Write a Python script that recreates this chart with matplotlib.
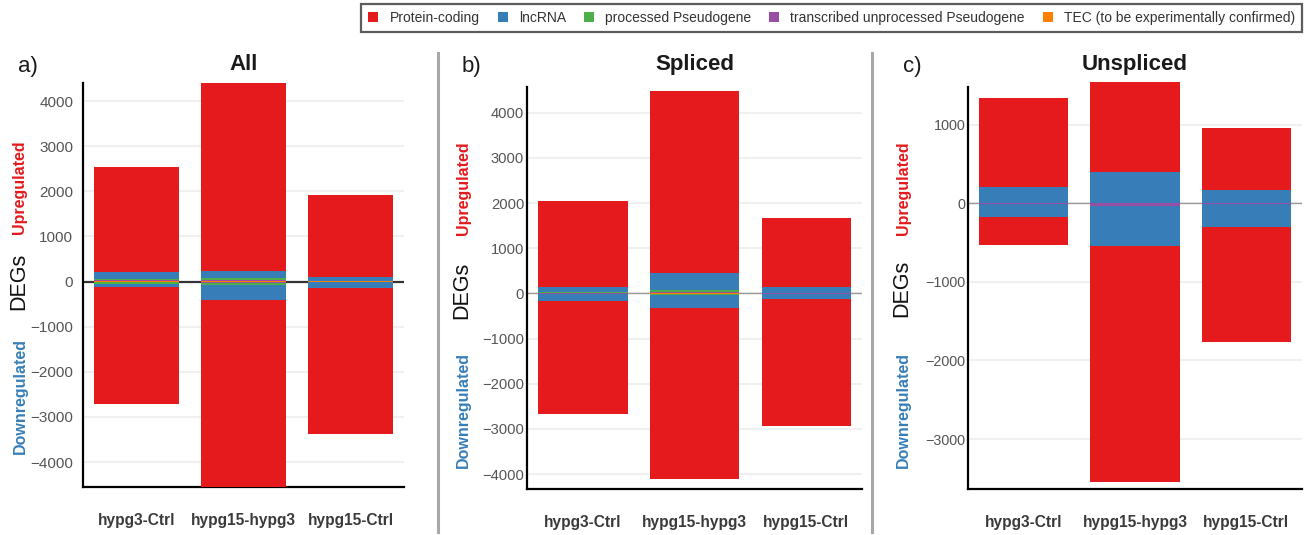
import matplotlib
matplotlib.use("Agg")
import matplotlib.pyplot as plt
from matplotlib.patches import Patch
from matplotlib.lines import Line2D
import numpy as np

plt.rcParams["font.family"] = ["Liberation Sans", "DejaVu Sans"]

comparisons = ["hypg3-Ctrl", "hypg15-hypg3", "hypg15-Ctrl"]
biotypes = ["Protein-coding", "lncRNA", "processed Pseudogene",
            "transcribed unprocessed Pseudogene",
            "TEC (to be experimentally confirmed)"]
biotype_colors = ["#E41A1C", "#377EB8", "#4DAF4A", "#984EA3", "#FF7F00"]

# DEG counts per biotype (rows follow `biotypes`), columns follow `comparisons`
all_up = [[2320, 4160, 1810],
          [165, 160, 95],
          [25, 50, 5],
          [25, 25, 5],
          [5, 5, 2]]
all_down = [[-2590, -4160, -3228],
            [-75, -320, -130],
            [-30, -50, -10],
            [-15, -20, -10],
            [-5, -10, -2]]

spliced_up = [[1911, 4026, 1540],
              [114, 386, 115],
              [15, 40, 8],
              [10, 20, 5],
              [5, 7, 2]]
spliced_down = [[-2500, -3789, -2809],
                [-154, -275, -115],
                [-15, -25, -8],
                [-7, -15, -4],
                [-3, -6, -1]]

unspliced_up = [[1131, 1150, 791],
                [195, 390, 161],
                [0, 0, 0],
                [8, 6, 5],
                [0, 0, 0]]
unspliced_down = [[-360, -3000, -1456],
                  [-165, -502, -303],
                  [0, 0, 0],
                  [-5, -40, -5],
                  [0, 0, 0]]

W, H = 1305, 535
fig = plt.figure(figsize=(W / 100, H / 100), dpi=100)


def fx(px):
    return px / W


def fy(py):
    return 1 - py / H


panels = [
    dict(up=all_up, down=all_down, title="All", tag="a)",
         box=(83, 404, 83, 487), ylim=(-4554, 4399),
         ticks=np.arange(-4000, 4001, 1000), zero=("#333333", 1.6),
         label_x=19, degs_y=281, up_y=187, down_y=396, clip=True,
         ypad=7, ysize=11),
    dict(up=spliced_up, down=spliced_down, title="Spliced", tag="b)",
         box=(527, 862, 87, 489), ylim=(-4331, 4568),
         ticks=np.arange(-4000, 4001, 1000), zero=("#9a9a9a", 1.0),
         label_x=462, degs_y=290, up_y=188, down_y=410, clip=True,
         ypad=2, ysize=10.6),
    dict(up=unspliced_up, down=unspliced_down, title="Unspliced", tag="c)",
         box=(968, 1302, 87, 489), ylim=(-3635, 1477),
         ticks=np.arange(-3000, 1001, 1000), zero=("#9a9a9a", 1.0),
         label_x=902, degs_y=288, up_y=188, down_y=410, clip=False,
         ypad=2, ysize=10.4),
]

x = np.arange(len(comparisons))
bar_w = 0.8

for p in panels:
    l, r, t, b = p["box"]
    ax = fig.add_axes([fx(l), fy(b), fx(r) - fx(l), fy(t) - fy(b)])
    ax.set_xlim(-0.5, 2.5)
    ax.set_ylim(*p["ylim"])

    # stack outward from zero: last biotype nearest the axis, protein-coding outermost
    for values in (p["up"], p["down"]):
        base = np.zeros(len(comparisons))
        for i in reversed(range(len(biotypes))):
            v = np.array(values[i], dtype=float)
            ax.bar(x, v, bottom=base, width=bar_w, color=biotype_colors[i],
                   edgecolor="none", zorder=3, clip_on=p["clip"])
            base = base + v

    ax.axhline(0, color=p["zero"][0], lw=p["zero"][1], zorder=2)

    ax.set_yticks(p["ticks"])
    ax.set_yticklabels([f"{v:d}".replace("-", "\u2212") for v in p["ticks"]])
    ax.yaxis.grid(True, color="#ececec", lw=1.1, zorder=0)
    ax.set_axisbelow(True)
    ax.set_xticks(x)
    ax.set_xticklabels(comparisons, fontweight="bold", fontsize=11.2,
                       color="#3a3a3a")
    ax.tick_params(axis="x", length=0, pad=19)
    ax.tick_params(axis="y", length=0, pad=p["ypad"], labelsize=p["ysize"],
                   labelcolor="#555555")
    for s in ("top", "right"):
        ax.spines[s].set_visible(False)
    for s in ("left", "bottom"):
        ax.spines[s].set_color("black")
        ax.spines[s].set_linewidth(1.6)

    cx = (fx(l) + fx(r)) / 2
    fig.text(cx, fy(70), p["title"], ha="center", va="baseline",
             fontsize=16, fontweight="bold", color="#1a1a1a")
    fig.text(fx(l - 65), fy(72), p["tag"], ha="left", va="baseline",
             fontsize=16, color="#1a1a1a")

    lx = fx(p["label_x"])
    fig.text(lx, fy(p["degs_y"]), "DEGs", rotation=90, ha="center",
             va="center", fontsize=15.5, color="#111111")
    fig.text(lx + fx(1), fy(p["up_y"]), "Upregulated", rotation=90,
             ha="center", va="center", fontsize=11.5, fontweight="bold",
             color="#E41A1C")
    fig.text(lx + fx(1), fy(p["down_y"]), "Downregulated", rotation=90,
             ha="center", va="center", fontsize=11.5, fontweight="bold",
             color="#377EB8")

# panel separators
for sx in (438, 872):
    fig.add_artist(Line2D([fx(sx), fx(sx)], [fy(53), fy(532)],
                          color="#a8a8a8", lw=2.2))

handles = [Patch(facecolor=c, edgecolor="none") for c in biotype_colors]
leg = fig.legend(handles, biotypes, ncol=5, loc="upper right",
                 bbox_to_anchor=(fx(1302), fy(4)), fontsize=10,
                 frameon=True, fancybox=False, handlelength=0.72,
                 handleheight=0.72, handletextpad=0.8, columnspacing=1.3,
                 borderpad=0.5, borderaxespad=0)
leg.get_frame().set_edgecolor("#333333")
leg.get_frame().set_linewidth(1.6)
for txt in leg.get_texts():
    txt.set_color("#333333")

fig.savefig("out.png", dpi=100)
